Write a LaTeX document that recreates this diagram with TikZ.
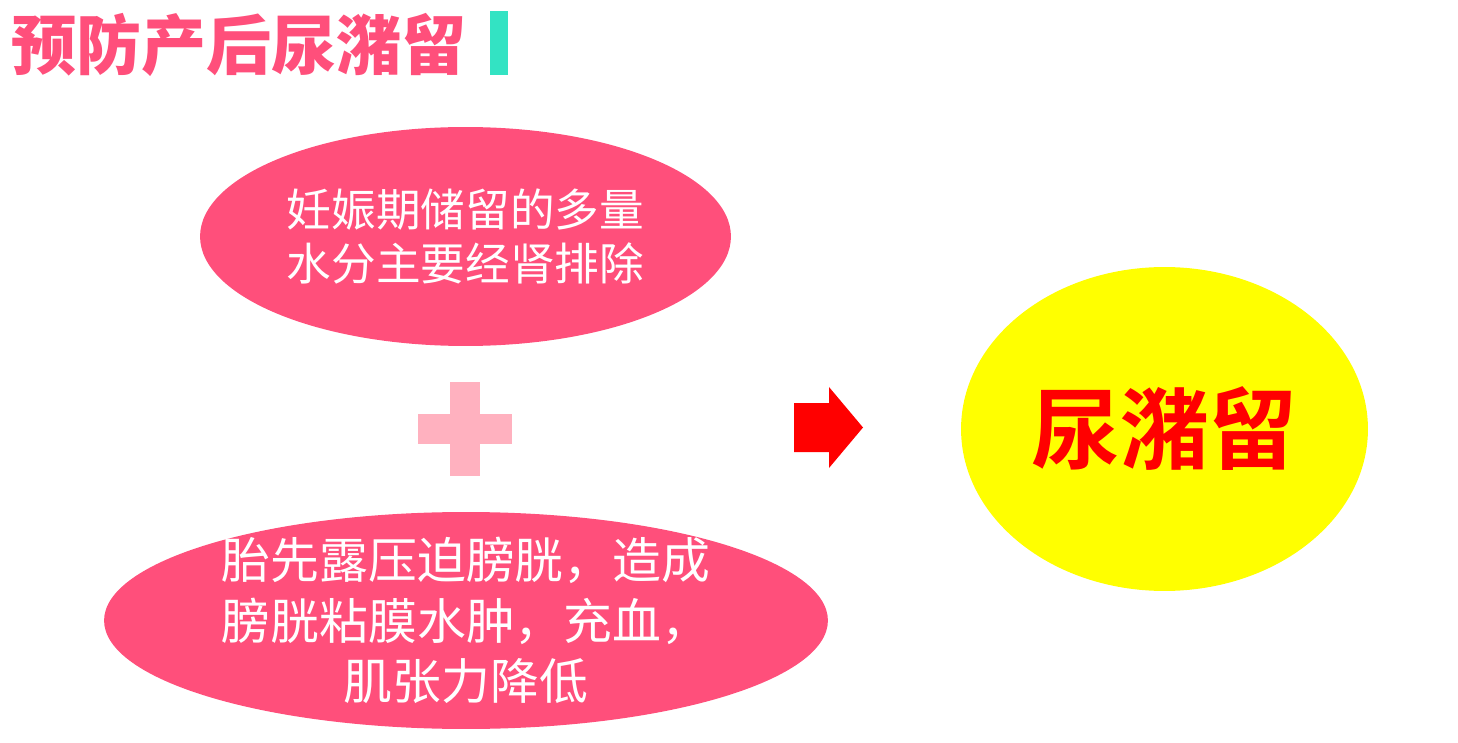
\documentclass[tikz,border=0pt]{standalone}
\usepackage{fontspec}
\newfontfamily\cjk{Noto Sans CJK SC}
\newfontfamily\cjkbold{Noto Sans CJK SC Bold}
\newfontfamily\cjkblack{Noto Sans CJK SC Black}
\usetikzlibrary{shapes.geometric, positioning}
\definecolor{rosepink}{HTML}{FF4F7B}
\definecolor{lightpink}{HTML}{FFB1BF}
\definecolor{tealbar}{HTML}{33E3C3}
\definecolor{brightyellow}{HTML}{FFFF00}
\tikzstyle{causebox} = [ellipse, fill=rosepink, inner sep=0pt, align=center, text=white]

\begin{document}
\begin{tikzpicture}[x=0.02cm, y=-0.02cm, every node/.style={font=\cjk}]
    \useasboundingbox (0,0) rectangle (1458,743);
    % Title
    \node (title) [anchor=base west, text=rosepink, inner sep=0pt, font=\cjkblack\fontsize{37pt}{40pt}\selectfont] at (11,70) {预防产后尿潴留};
    \fill[tealbar] (490,11) rectangle (508,75);

    % Causes
    \node (water) [causebox, minimum width=10.62cm, minimum height=4.38cm,
          font=\cjk\fontsize{25.4pt}{30.7pt}\selectfont] at (465.5,236.5)
          {妊娠期储留的多量\\水分主要经肾排除};
    \node (bladder) [causebox, minimum width=14.48cm, minimum height=4.34cm] at (466,620.5) {};
    \node (bladdertext) [align=center, text=white, inner sep=0pt,
          font=\cjk\fontsize{27.8pt}{34.6pt}\selectfont] at (bladder.center)
          {胎先露压迫膀胱，造成\\膀胱粘膜水肿，充血，\\肌张力降低};

    % Plus sign
    \fill[lightpink] (418,414) rectangle (512,444);
    \fill[lightpink] (450,382) rectangle (480,476);

    % Arrow
    \fill[red] (794,403) -- (829,403) -- (829,387) -- (863,427.5) -- (829,468) -- (829,452) -- (794,452) -- cycle;

    % Result
    \node (result) [ellipse, fill=brightyellow, inner sep=0pt, minimum width=8.14cm, minimum height=6.48cm,
          text=red, font=\cjkbold\fontsize{50.5pt}{55pt}\selectfont] at (1164.5,429) {尿潴留};
\end{tikzpicture}
\end{document}
